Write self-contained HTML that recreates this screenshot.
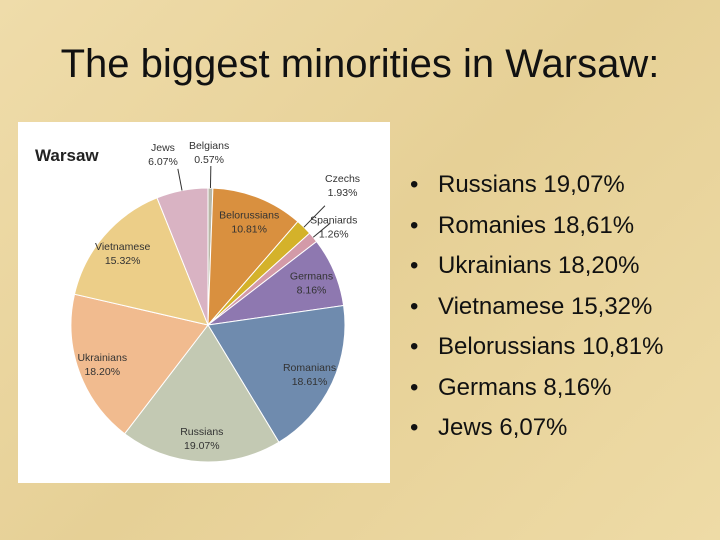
<!DOCTYPE html>
<html><head><meta charset="utf-8"><style>
body{margin:0;width:720px;height:540px;overflow:hidden;background:#ecd9a3;font-family:"Liberation Sans",sans-serif;}
#bg{position:absolute;left:0;top:0;width:720px;height:540px;background:linear-gradient(135deg,#efdcaa,#e6d096 50%,#eedba6);}
h1{position:absolute;left:0;top:42px;width:720px;margin:0;text-align:center;font-weight:normal;font-size:40px;color:#111;}
#panel{position:absolute;left:18px;top:122px;width:372px;height:361px;background:#fff;}
ul{position:absolute;left:410px;top:168px;margin:0;padding:0;list-style:none;font-size:24px;color:#111;}
li{height:40.5px;line-height:34px;}
li:before{content:"•";display:inline-block;width:28px;}
</style></head><body>
<div id="bg"></div>
<h1>The biggest minorities in Warsaw:</h1>
<div id="panel"></div>
<svg id="chart" width="720" height="540" style="position:absolute;left:0;top:0">
<text x="35" y="161" font-size="17" font-weight="bold" fill="#222">Warsaw</text>
</svg>
<ul>
<li>Russians 19,07%</li>
<li>Romanies 18,61%</li>
<li>Ukrainians 18,20%</li>
<li>Vietnamese 15,32%</li>
<li>Belorussians 10,81%</li>
<li>Germans 8,16%</li>
<li>Jews 6,07%</li>
</ul>
<script>
const categories=["Belgians","Belorussians","Czechs","Spaniards","Germans","Romanians","Russians","Ukrainians","Vietnamese","Jews"];
const values=[0.57,10.81,1.93,1.26,8.16,18.61,19.07,18.20,15.32,6.07];
const labelText=["0.57%","10.81%","1.93%","1.26%","8.16%","18.61%","19.07%","18.20%","15.32%","6.07%"];
const colors=["#b8b8a8","#d9903f","#d4b22a","#d39aa8","#8e78b0","#6f8bae","#c3c9b3","#f1bb8f","#ecce88","#d9b3c3"];
const svg=document.getElementById('chart');
const NS="http://www.w3.org/2000/svg";
const cx=208,cy=325,R=137;
const total=values.reduce((a,b)=>a+b,0);
function pt(frac,r){const a=frac*2*Math.PI-Math.PI/2;return [cx+r*Math.cos(a),cy+r*Math.sin(a)];}
let acc=0;
const mids=[];
values.forEach((v,i)=>{
  const f0=acc/total,f1=(acc+v)/total;acc+=v;mids.push((f0+f1)/2);
  const p0=pt(f0,R),p1=pt(f1,R);
  const large=(f1-f0)>0.5?1:0;
  const p=document.createElementNS(NS,'path');
  p.setAttribute('d',`M${cx},${cy}L${p0[0]},${p0[1]}A${R},${R} 0 ${large} 1 ${p1[0]},${p1[1]}Z`);
  p.setAttribute('fill',colors[i]);p.setAttribute('stroke','#fff');p.setAttribute('stroke-width','1');
  
  
  svg.appendChild(p);
});
function outOffset(i){return i==0?[-2,-2]:i==9?[-13,-6]:i==2?[12,-16]:i==3?[-1,6]:[0,0];}
function outR(i){return i==0?172:i==9?169:i==2?175:165;}
values.forEach((v,i)=>{
  let x,y;
  const small=v<7;
  if(small){
    const r=outR(i);
    [x,y]=pt(mids[i],r);
    const o=outOffset(i);x+=o[0];y+=o[1];
    const lp=pt(mids[i],R),lq=pt(mids[i],i==2?R+30:R+22);
    const ln=document.createElementNS(NS,'line');
    ln.setAttribute('x1',lp[0]);ln.setAttribute('y1',lp[1]);ln.setAttribute('x2',lq[0]);ln.setAttribute('y2',lq[1]);
    ln.setAttribute('stroke','#333');ln.setAttribute('stroke-width','1');
    
    
    svg.appendChild(ln);
  } else {
    [x,y]=pt(mids[i],R*0.82);
  }
  const t=document.createElementNS(NS,'text');
  t.setAttribute('x',x);t.setAttribute('y',y-2);t.setAttribute('text-anchor','middle');
  t.setAttribute('font-size','10.5');t.setAttribute('fill','#333');
  
  
  const a=document.createElementNS(NS,'tspan');a.setAttribute('x',x);a.textContent=categories[i];
  const b=document.createElementNS(NS,'tspan');b.setAttribute('x',x);b.setAttribute('dy','14');b.textContent=labelText[i];
  t.appendChild(a);t.appendChild(b);svg.appendChild(t);
});
</script>
</body></html>
